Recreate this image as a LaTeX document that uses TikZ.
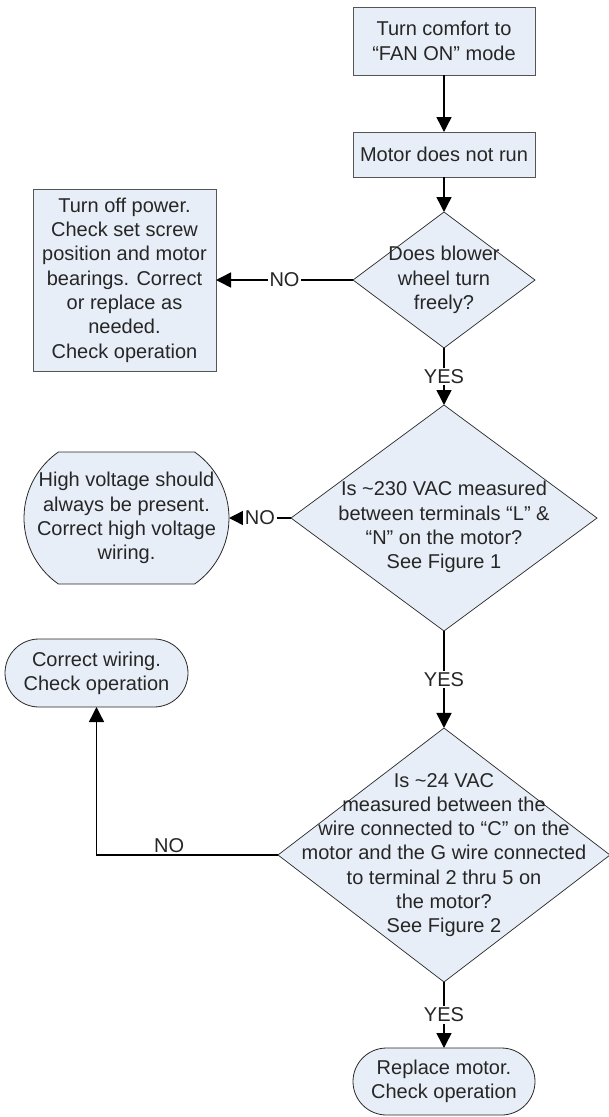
\documentclass[tikz,border=0pt]{standalone}
\usepackage{fontspec}
\setmainfont{Liberation Sans}
\usepackage{tikz}
\usetikzlibrary{shapes.geometric,shapes.misc,arrows.meta,positioning}
\definecolor{FlowFill}{RGB}{232,238,247}
\definecolor{FlowText}{RGB}{38,38,38}
\definecolor{BoxEdge}{RGB}{85,85,85}
\definecolor{DiaEdge}{RGB}{40,40,40}
\newcommand{\flowfont}{\fontsize{20pt}{24.3pt}\selectfont}

\begin{document}
\begin{tikzpicture}[x=1pt, y=1pt,
  box/.style={rectangle, draw=BoxEdge, fill=FlowFill, line width=0.9pt, outer sep=0pt,
              inner sep=3pt, align=center, font=\flowfont, text=FlowText},
  decision/.style={diamond, draw=DiaEdge, fill=FlowFill, line width=0.7pt, inner sep=0pt, outer sep=0pt},
  terminal/.style={rounded rectangle, draw=DiaEdge, fill=FlowFill, line width=0.8pt, inner sep=0pt, outer sep=0pt},
  qtext/.style={align=center, font=\flowfont, text=FlowText, inner sep=0pt},
  arrow/.style={-{Triangle[width=15pt,length=15pt]}, line width=1.5pt},
  answer/.style={fill=white, inner sep=1.5pt, font=\flowfont, text=FlowText}
]
\useasboundingbox (0,0) rectangle (609,-1117);
\node[box, minimum width=182pt, minimum height=68pt] (comfort) at (444,-41) {Turn comfort to\\“FAN ON” mode};
\node[box, minimum width=182pt, minimum height=45pt, below=57pt of comfort] (motor) {Motor does not run};
\node[decision, minimum width=182pt, minimum height=136pt, below=35pt of motor,
      label={[qtext]center:{Does blower\\wheel turn\\freely?}}] (blower) {};
\node[box, minimum width=183pt, minimum height=182pt, left=137pt of blower] (power)
  {Turn off power.\\Check set screw\\position and motor\\bearings. Correct\\or replace as\\needed.\\Check operation};
\node[decision, minimum width=306pt, minimum height=226pt, below=57pt of blower,
      label={[qtext, yshift=-9pt]center:{Is \textasciitilde230 VAC measured\\between terminals “L” \&\\“N” on the motor?\\See Figure 1}}] (hvolt) {};
\node[terminal, rounded rectangle arc length=110, minimum width=205pt, minimum height=132pt, left=62pt of hvolt,
      label={[qtext]center:{High voltage should\\always be present.\\Correct high voltage\\wiring.}}] (hvwire) {};
\node[decision, minimum width=332pt, minimum height=254pt, below=97pt of hvolt,
      label={[qtext]center:{Is \textasciitilde24 VAC\\measured between the\\wire connected to “C” on the\\motor and the G wire connected\\to terminal 2 thru 5 on\\the motor?\\See Figure 2}}] (lowvolt) {};
\node[terminal, minimum width=183pt, minimum height=68pt,
      label={[qtext]center:{Correct wiring.\\Check operation}}] (wiring) at (96.5,-673) {};
\node[terminal, minimum width=182pt, minimum height=67pt, below=66pt of lowvolt,
      label={[qtext]center:{Replace motor.\\Check operation}}] (replace) {};

% connectors
\draw[arrow] (comfort) -- (motor);
\draw[arrow] (motor) -- (blower);
\draw[arrow] (blower) -- node[answer]{NO} (power);
\draw[arrow] (blower) -- node[answer]{YES} (hvolt);
\draw[arrow] (hvolt) -- node[answer]{NO} (hvwire);
\draw[arrow] (hvolt) -- node[answer]{YES} (lowvolt);
\draw[arrow] (lowvolt.west) -| node[answer, fill=none, above, pos=0.3]{NO} (wiring.south);
\draw[arrow] (lowvolt) -- node[answer]{YES} (replace);
\end{tikzpicture}
\end{document}
